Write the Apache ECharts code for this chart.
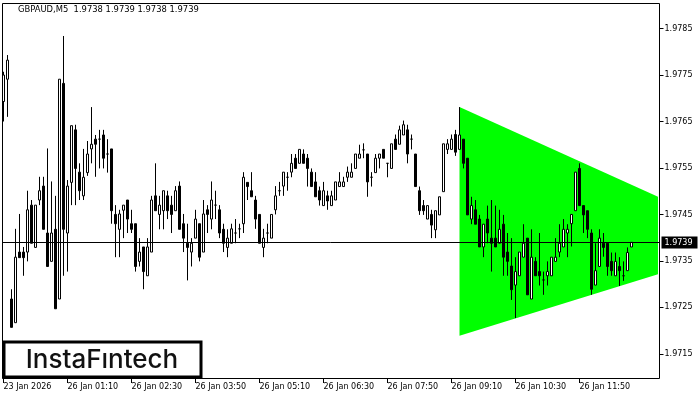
<!DOCTYPE html>
<html><head><meta charset="utf-8">
<script src="https://cdn.jsdelivr.net/npm/echarts@6/dist/echarts.min.js"></script>
<style>html,body{margin:0;padding:0;background:#fff}#c{width:700px;height:400px}</style>
</head><body><div id="c"></div>
<script>
const symbolTitle = 'GBPAUD,M5  1.9738 1.9739 1.9738 1.9739';
const openP = [1.97693,1.97741,1.97268,1.97217,1.97369,1.97369,1.97369,1.97470,1.97379,1.97481,
1.97511,1.97410,1.97349,1.97418,1.97268,1.97732,1.97410,1.97519,1.97632,1.97541,
1.97490,1.97540,1.97591,1.97612,1.97612,1.97621,1.97580,1.97591,1.97450,1.97418,
1.97459,1.97481,1.97430,1.97430,1.97349,1.97380,1.97318,1.97369,1.97490,1.97450,
1.97458,1.97490,1.97470,1.97458,1.97511,1.97430,1.97388,1.97369,1.97399,1.97430,
1.97369,1.97460,1.97440,1.97470,1.97460,1.97418,1.97379,1.97388,1.97410,1.97419,
1.97430,1.97519,1.97501,1.97481,1.97450,1.97379,1.97410,1.97399,1.97460,1.97501,
1.97511,1.97530,1.97541,1.97571,1.97560,1.97580,1.97571,1.97541,1.97520,1.97501,
1.97469,1.97490,1.97469,1.97481,1.97510,1.97510,1.97530,1.97530,1.97549,1.97571,
1.97589,1.97580,1.97530,1.97540,1.97571,1.97590,1.97560,1.97549,1.97612,1.97601,
1.97621,1.97632,1.97612,1.97580,1.97501,1.97469,1.97440,1.97450,1.97417,1.97449,
1.97499,1.97590,1.97590,1.97622,1.97590,1.97612,1.97571,1.97440,1.97460,1.97440,
1.97380,1.97440,1.97399,1.97399,1.97388,1.97429,1.97369,1.97339,1.97298,1.97318,
1.97358,1.97399,1.97268,1.97349,1.97327,1.97309,1.97318,1.97318,1.97349,1.97369,
1.97380,1.97410,1.97430,1.97458,1.97549,1.97469,1.97458,1.97410,1.97298,1.97338,
1.97388,1.97388,1.97349,1.97318,1.97338,1.97318,1.97329,1.97380];
const highP = [1.97757,1.97793,1.97289,1.97419,1.97451,1.97380,1.97501,1.97481,1.97470,1.97531,
1.97531,1.97592,1.97521,1.97490,1.97741,1.97834,1.97524,1.97641,1.97643,1.97560,
1.97591,1.97608,1.97681,1.97621,1.97632,1.97632,1.97612,1.97591,1.97470,1.97460,
1.97470,1.97481,1.97460,1.97430,1.97399,1.97380,1.97399,1.97490,1.97560,1.97490,
1.97501,1.97501,1.97490,1.97511,1.97521,1.97451,1.97430,1.97399,1.97460,1.97430,
1.97481,1.97470,1.97521,1.97501,1.97470,1.97430,1.97418,1.97430,1.97440,1.97430,
1.97541,1.97519,1.97541,1.97490,1.97450,1.97419,1.97430,1.97450,1.97511,1.97520,
1.97541,1.97541,1.97580,1.97580,1.97590,1.97590,1.97580,1.97549,1.97541,1.97510,
1.97520,1.97501,1.97501,1.97520,1.97541,1.97531,1.97553,1.97560,1.97580,1.97600,
1.97603,1.97580,1.97541,1.97580,1.97580,1.97590,1.97560,1.97602,1.97622,1.97641,
1.97652,1.97643,1.97622,1.97580,1.97510,1.97481,1.97469,1.97460,1.97458,1.97488,
1.97602,1.97612,1.97622,1.97632,1.97681,1.97612,1.97571,1.97488,1.97481,1.97449,
1.97429,1.97469,1.97481,1.97469,1.97460,1.97449,1.97410,1.97399,1.97358,1.97369,
1.97429,1.97399,1.97418,1.97358,1.97410,1.97327,1.97349,1.97358,1.97399,1.97429,
1.97440,1.97429,1.97450,1.97541,1.97560,1.97469,1.97458,1.97418,1.97388,1.97418,
1.97410,1.97388,1.97368,1.97368,1.97358,1.97349,1.97379,1.97390];
const lowP = [1.97650,1.97660,1.97207,1.97217,1.97357,1.97318,1.97349,1.97388,1.97379,1.97470,
1.97418,1.97338,1.97349,1.97247,1.97268,1.97318,1.97327,1.97470,1.97470,1.97481,
1.97481,1.97533,1.97560,1.97531,1.97549,1.97549,1.97540,1.97430,1.97358,1.97358,
1.97399,1.97410,1.97410,1.97327,1.97338,1.97289,1.97318,1.97369,1.97458,1.97418,
1.97418,1.97440,1.97410,1.97458,1.97418,1.97369,1.97308,1.97338,1.97399,1.97349,
1.97369,1.97410,1.97418,1.97440,1.97399,1.97369,1.97358,1.97388,1.97388,1.97399,
1.97410,1.97481,1.97488,1.97419,1.97388,1.97358,1.97388,1.97399,1.97450,1.97490,
1.97490,1.97501,1.97530,1.97549,1.97560,1.97560,1.97510,1.97510,1.97488,1.97469,
1.97469,1.97460,1.97469,1.97481,1.97510,1.97510,1.97520,1.97530,1.97549,1.97571,
1.97571,1.97488,1.97510,1.97540,1.97549,1.97571,1.97530,1.97549,1.97590,1.97601,
1.97621,1.97560,1.97590,1.97510,1.97449,1.97449,1.97440,1.97399,1.97399,1.97449,
1.97499,1.97580,1.97590,1.97576,1.97590,1.97549,1.97449,1.97429,1.97429,1.97380,
1.97358,1.97388,1.97327,1.97380,1.97388,1.97318,1.97318,1.97266,1.97227,1.97318,
1.97358,1.97277,1.97268,1.97318,1.97297,1.97277,1.97297,1.97318,1.97349,1.97358,
1.97380,1.97358,1.97381,1.97458,1.97469,1.97410,1.97399,1.97277,1.97298,1.97338,
1.97359,1.97318,1.97318,1.97318,1.97296,1.97307,1.97329,1.97380];
const closeP = [1.97750,1.97782,1.97207,1.97358,1.97357,1.97357,1.97460,1.97388,1.97470,1.97501,
1.97418,1.97338,1.97410,1.97247,1.97741,1.97418,1.97511,1.97641,1.97549,1.97501,
1.97530,1.97580,1.97601,1.97601,1.97612,1.97571,1.97580,1.97458,1.97430,1.97451,
1.97470,1.97440,1.97418,1.97338,1.97369,1.97327,1.97380,1.97481,1.97458,1.97470,
1.97501,1.97458,1.97450,1.97501,1.97418,1.97399,1.97379,1.97388,1.97440,1.97358,
1.97451,1.97450,1.97481,1.97470,1.97410,1.97388,1.97399,1.97419,1.97410,1.97419,
1.97530,1.97510,1.97488,1.97440,1.97388,1.97399,1.97410,1.97450,1.97490,1.97501,
1.97541,1.97530,1.97560,1.97549,1.97590,1.97560,1.97549,1.97510,1.97488,1.97481,
1.97501,1.97479,1.97490,1.97520,1.97520,1.97520,1.97541,1.97541,1.97580,1.97580,
1.97589,1.97520,1.97530,1.97571,1.97580,1.97571,1.97560,1.97602,1.97590,1.97632,
1.97643,1.97580,1.97612,1.97510,1.97458,1.97458,1.97469,1.97427,1.97458,1.97488,
1.97602,1.97602,1.97612,1.97584,1.97621,1.97560,1.97449,1.97469,1.97429,1.97380,
1.97429,1.97410,1.97388,1.97380,1.97418,1.97358,1.97349,1.97288,1.97327,1.97369,
1.97388,1.97277,1.97358,1.97318,1.97318,1.97309,1.97327,1.97358,1.97358,1.97388,
1.97418,1.97418,1.97450,1.97541,1.97469,1.97449,1.97418,1.97289,1.97329,1.97399,
1.97379,1.97338,1.97329,1.97349,1.97329,1.97318,1.97368,1.97390];
const lastPrice = 1.9739;
const tickIdx = [0,16,32,48,64,80,96,112,128,144];
const tickLabels = ['23 Jan 2026','26 Jan 01:10','26 Jan 02:30','26 Jan 03:50','26 Jan 05:10','26 Jan 06:30','26 Jan 07:50','26 Jan 09:10','26 Jan 10:30','26 Jan 11:50'];
const yTicks = [1.9715,1.9725,1.9735,1.9745,1.9755,1.9765,1.9775,1.9785];
const patternX = [114, 114, 188.8];
const patternY = [1.97681, 1.97189, 1.97389];
const totalSlots = 164;

const pad = n => (n < 10 ? '0' : '') + n;
const categories = [];
for (let i = 0; i < totalSlots; i++) {
  if (i < 2) { categories.push('23 Jan 23:' + (50 + 5 * i)); }
  else { const m = (i - 2) * 5; categories.push('26 Jan ' + pad(Math.floor(m / 60)) + ':' + pad(m % 60)); }
}
const candles = openP.map((o, i) => [o, closeP[i], lowP[i], highP[i]]);

const FONT = 'DejaVu Sans';
const chart = echarts.init(document.getElementById('c'), null, {renderer: 'canvas'});
chart.setOption({
  animation: false,
  backgroundColor: '#fff',
  grid: {left: 1.5, top: 3, width: 656, height: 375, show: false},
  xAxis: {
    type: 'category', data: categories, boundaryGap: true,
    axisLine: {show: false},
    axisTick: {show: true, alignWithLabel: true, length: 5, interval: (i) => tickIdx.indexOf(i) >= 0, lineStyle: {color: '#000'}},
    axisLabel: {interval: (i) => tickIdx.indexOf(i) >= 0, formatter: (v, i) => tickLabels[tickIdx.indexOf(i)] || '',
      align: 'left', margin: 5, color: '#000', fontSize: 8, fontFamily: FONT},
    splitLine: {show: false}
  },
  yAxis: {
    type: 'value', position: 'right', offset: 2, min: 1.97098, max: 1.97905, scale: true,
    axisLine: {show: false},
    axisTick: {show: true, length: 4, customValues: yTicks, lineStyle: {color: '#000'}},
    axisLabel: {customValues: yTicks, formatter: v => v.toFixed(4), margin: 5, color: '#000', fontSize: 8, fontFamily: FONT},
    splitLine: {show: false}
  },
  series: [
    {
      type: 'custom', z: 1, silent: true, clip: true,
      data: [[patternX[0], patternY[0]]],
      renderItem: (params, api) => {
        const pts = patternX.map((x, k) => api.coord([x, patternY[k]]));
        return {type: 'polygon', shape: {points: pts}, style: {fill: '#00ff00', stroke: null}};
      }
    },
    {
      type: 'candlestick', z: 3, data: candles, barWidth: 2,
      itemStyle: {color: '#fff', color0: '#000', borderColor: '#000', borderColor0: '#000', borderWidth: 1}
    },
    {
      type: 'custom', z: 4, silent: true, clip: false,
      data: [[0, lastPrice]],
      renderItem: (params, api) => {
        const cs = params.coordSys;
        const y = Math.round(api.coord([0, lastPrice])[1]) + 0.5;
        const right = cs.x + cs.width;
        return {type: 'group', children: [
          {type: 'line', shape: {x1: 2, y1: y, x2: right + 2, y2: y}, style: {stroke: '#000', lineWidth: 1}},
          {type: 'rect', shape: {x: right + 4, y: y - 6, width: 36, height: 12}, style: {fill: '#000'}},
          {type: 'text', style: {x: right + 7, y: y, text: lastPrice.toFixed(4), fill: '#fff', font: '8px "DejaVu Sans"', textVerticalAlign: 'middle'}}
        ]};
      }
    }
  ],
  graphic: [
    {type: 'rect', z: 100, shape: {x: 2.5, y: 3.5, width: 657, height: 375}, style: {fill: null, stroke: '#000', lineWidth: 1}, silent: true},
    {type: 'text', z: 100, left: 18, top: 6, style: {text: symbolTitle, fill: '#000', font: '8.4px "DejaVu Sans"'}},
    {type: 'rect', z: 101, shape: {x: 4, y: 342, width: 197, height: 35}, style: {fill: '#fff', stroke: '#000', lineWidth: 3}},
    {type: 'text', z: 102, x: 102, y: 360, style: {text: 'InstaF\u0131ntech', fill: '#111', font: '500 26px Inter', textAlign: 'center', textVerticalAlign: 'middle'}}
  ]
});
</script></body></html>
